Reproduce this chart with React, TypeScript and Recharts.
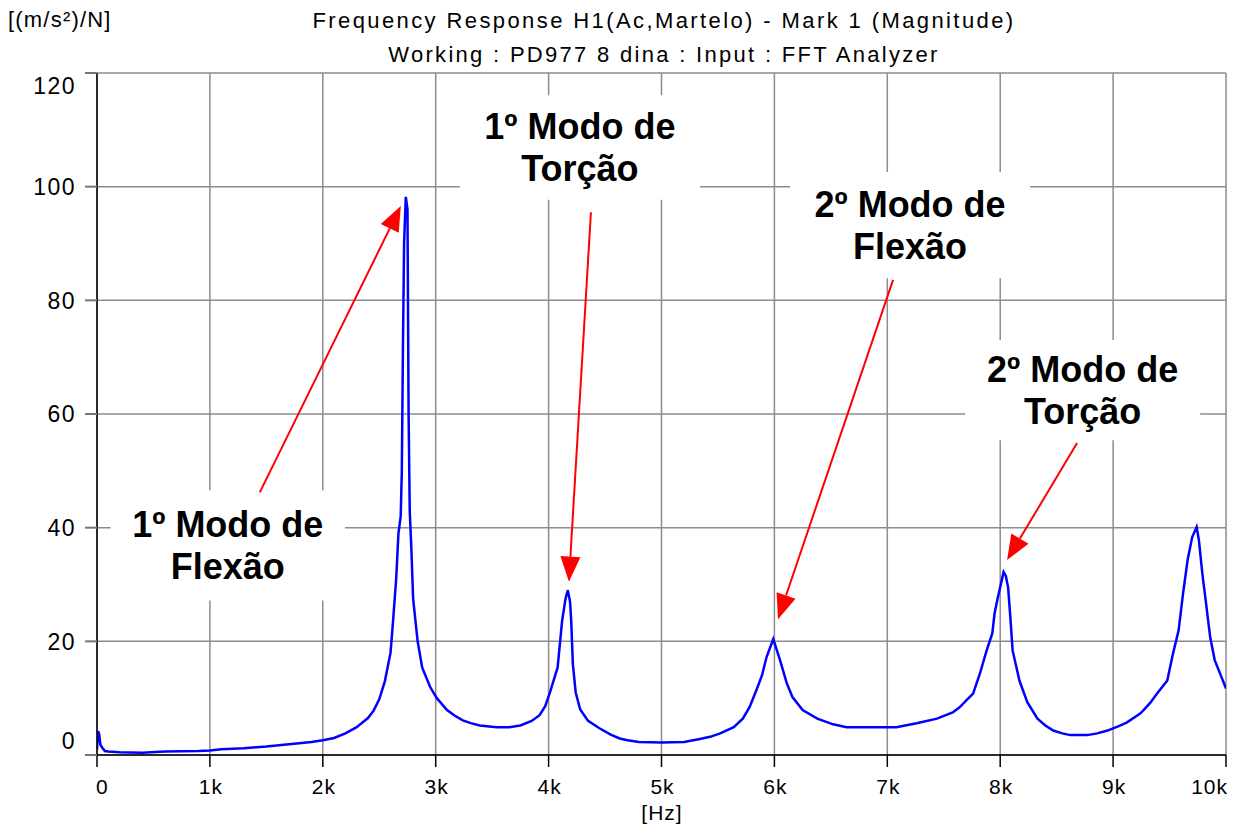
import React from 'react';
import { LineChart, Line, XAxis, YAxis, CartesianGrid, ReferenceArea, ReferenceLine } from 'recharts';

// ---- data ----
const freqHz = [
  0, 10, 20, 30, 50, 70, 100, 200, 400, 600, 900, 1000, 1100, 1300, 1500, 1700, 1900, 2000, 2100, 2200,
  2300, 2400, 2450, 2500, 2550, 2600, 2620, 2650, 2670, 2690, 2700, 2710, 2720, 2735, 2750, 2760, 2770, 2785,
  2800, 2840, 2880, 2950, 3010, 3100, 3170, 3240, 3310, 3390, 3540, 3650, 3750, 3850, 3920, 3970, 4010, 4080, 4120, 4150, 4170, 4190,
  4200, 4215, 4240, 4280, 4350, 4450, 4550, 4630, 4700, 4800, 5000, 5200, 5340, 5430, 5520, 5640, 5720, 5780, 5840, 5890, 5930,
  5990, 6050, 6110, 6160, 6250, 6380, 6520, 6640, 7080, 7260, 7440, 7580, 7640, 7700, 7760, 7820, 7880, 7930,
  7950, 7980, 8020, 8030, 8050, 8070, 8090, 8110, 8170, 8240, 8330, 8400, 8470, 8550, 8620, 8770, 8860, 8950, 9040, 9120, 9240, 9270,
  9330, 9390, 9480, 9530, 9580, 9620, 9660, 9700, 9740, 9760, 9790, 9820, 9860, 9900, 9960, 10000,
];
const magnitude = [
  1.0, 4.2, 3.6, 1.8, 1.2, 0.7, 0.6, 0.5, 0.4, 0.6, 0.7, 0.8, 1.0, 1.2, 1.5, 1.9, 2.3, 2.6, 3.0, 3.8,
  4.9, 6.5, 7.8, 9.8, 13, 18, 23, 31, 39, 42, 50, 72, 90, 98.2, 96, 60, 43, 36,
  27.5, 20, 15.4, 12, 10, 7.9, 6.9, 6.1, 5.6, 5.2, 4.9, 4.9, 5.2, 6.0, 7.0, 8.6, 10.9, 15.4, 23.7, 27.5, 29, 27,
  23.7, 16, 11, 8, 6, 4.7, 3.6, 2.9, 2.6, 2.3, 2.2, 2.3, 2.8, 3.2, 3.8, 4.9, 6.4, 8.4, 11.4, 14, 17.2,
  20.4, 16.7, 12.6, 10.2, 7.9, 6.4, 5.4, 4.9, 4.9, 5.6, 6.4, 7.5, 8.4, 9.6, 10.8, 14.3, 18.4, 21.4,
  24.9, 27.8, 31.3, 32.2, 31.5, 29.5, 24.2, 18.4, 13.1, 9.3, 6.4, 5.2, 4.3, 3.8, 3.5, 3.5, 3.8, 4.3, 5.0, 5.7, 7.3, 7.9,
  9.2, 10.8, 13.1, 17.8, 21.9, 28.5, 34.3, 38.3, 40.1, 37.8, 32, 27.2, 20.7, 16.7, 13.7, 11.7,
];
const xTicks = [0, 1000, 2000, 3000, 4000, 5000, 6000, 7000, 8000, 9000, 10000];
const yTicks = [0, 20, 40, 60, 80, 100, 120];

const titleLine1 = 'Frequency Response H1(Ac,Martelo) - Mark 1 (Magnitude)';
const titleLine2 = 'Working : PD977 8 dina : Input : FFT Analyzer';
const yUnit = '[(m/s²)/N]';
const xUnit = '[Hz]';

const modeLabels = [
  ['1º Modo de', 'Flexão'],
  ['1º Modo de', 'Torção'],
  ['2º Modo de', 'Flexão'],
  ['2º Modo de', 'Torção'],
];
const labelBoxHz = [[121, 2196], [3214, 5341], [6138, 8265], [7689, 9771]];
const labelBoxMag = [[27.2, 46.6], [97.7, 116.1], [83.9, 102.6], [55.4, 73]];
const arrowFrom = [[1442, 46.2], [4375, 95.5], [7051, 83.6], [8681, 54.9]];
const arrowTo = [[2691, 96.6], [4180, 30.5], [6032, 23.9], [8061, 34.3]];

const data = freqHz.map((f, i) => ({ f, m: magnitude[i] }));

const FONT = '"Liberation Sans", Arial, Helvetica, sans-serif';

const XTick = (props: any) => {
  const { x, y, payload } = props;
  const v = payload.value as number;
  const label = v === 0 ? '0' : `${v / 1000}k`;
  const anchor = v === 0 ? 'start' : v === 10000 ? 'end' : 'middle';
  const dx = v === 0 ? -1 : v === 10000 ? 2 : 1;
  return (
    <text x={x + dx} y={y} dy={27} textAnchor={anchor} fontSize={21} fontFamily={FONT} fill="#000" letterSpacing={1}>
      {label}
    </text>
  );
};

const YTick = (props: any) => {
  const { x, y, payload } = props;
  const v = payload.value as number;
  const dy = v === 120 ? 21 : v === 0 ? -6.5 : 8.2;
  return (
    <text x={x - 9} y={y} dy={dy} textAnchor="end" fontSize={23} fontFamily={FONT} fill="#000" letterSpacing={1.5}>
      {String(v)}
    </text>
  );
};

const makeBoxLabel = (lines: string[]) => (props: any) => {
  const vb = props.viewBox || {};
  const cx = vb.x + vb.width / 2;
  const cy = vb.y + vb.height / 2;
  return (
    <g>
      {lines.map((t, i) => (
        <text
          key={i}
          x={cx}
          y={cy + (i === 0 ? -21 : 21) + 12.5}
          textAnchor="middle"
          fontSize={36}
          fontWeight="bold"
          fontFamily={FONT}
          fill="#000"
        >
          {t}
        </text>
      ))}
    </g>
  );
};

const Arrow = (props: any) => {
  const { x1, y1, x2, y2 } = props;
  if ([x1, y1, x2, y2].some((v) => v === undefined || Number.isNaN(v))) return null;
  const dx = x2 - x1;
  const dy = y2 - y1;
  const len = Math.sqrt(dx * dx + dy * dy);
  const ux = dx / len;
  const uy = dy / len;
  const headLen = 25;
  const headHalf = 10;
  const bx = x2 - ux * headLen;
  const by = y2 - uy * headLen;
  const p1 = `${bx - uy * headHalf},${by + ux * headHalf}`;
  const p2 = `${bx + uy * headHalf},${by - ux * headHalf}`;
  return (
    <g>
      <line x1={x1} y1={y1} x2={bx} y2={by} stroke="#ff0000" strokeWidth={2} />
      <polygon points={`${x2},${y2} ${p1} ${p2}`} fill="#ff0000" />
    </g>
  );
};

export default function App() {
  return (
    <div style={{ position: 'absolute', left: 0, top: 0, width: 1240, height: 825, background: '#fff' }}>
      <LineChart width={1240} height={825} data={data} margin={{ top: 73, right: 14, bottom: 30, left: 17 }}>
        <CartesianGrid stroke="#8c8c8c" strokeWidth={1.5} />
        {labelBoxHz.map((bx, i) => (
          <ReferenceArea
            key={`box${i}`}
            x1={bx[0]}
            x2={bx[1]}
            y1={labelBoxMag[i][0]}
            y2={labelBoxMag[i][1]}
            fill="#ffffff"
            fillOpacity={1}
            stroke="none"
            ifOverflow="visible"
            label={makeBoxLabel(modeLabels[i])}
          />
        ))}
        <XAxis
          dataKey="f"
          type="number"
          domain={[0, 10000]}
          ticks={xTicks}
          interval={0}
          height={40}
          tickSize={12}
          tickMargin={0}
          axisLine={{ stroke: '#000', strokeWidth: 1.5 }}
          tickLine={{ stroke: '#000', strokeWidth: 1.5 }}
          tick={<XTick />}
          allowDataOverflow
        />
        <YAxis
          type="number"
          domain={[0, 120]}
          ticks={yTicks}
          interval={0}
          width={80}
          tickSize={12}
          tickMargin={0}
          axisLine={{ stroke: '#000', strokeWidth: 1.5 }}
          tickLine={{ stroke: '#777', strokeWidth: 2 }}
          tick={<YTick />}
          allowDataOverflow
        />
        <Line
          dataKey="m"
          type="linear"
          stroke="#0000ff"
          strokeWidth={2.5}
          dot={false}
          activeDot={false}
          isAnimationActive={false}
        />
        {arrowFrom.map((a, i) => (
          <ReferenceLine
            key={`arrow${i}`}
            segment={[
              { x: a[0], y: a[1] },
              { x: arrowTo[i][0], y: arrowTo[i][1] },
            ]}
            ifOverflow="visible"
            shape={(p: any) => <Arrow {...p} />}
          />
        ))}
      </LineChart>
      <svg
        width={1240}
        height={825}
        style={{ position: 'absolute', left: 0, top: 0, pointerEvents: 'none' }}
      >
        <text x={8} y={27} fontSize={22} fontFamily={FONT} fill="#000" letterSpacing={1.2}>
          {yUnit}
        </text>
        <text x={664} y={28} textAnchor="middle" fontSize={22} fontFamily={FONT} fill="#000" letterSpacing={2.4}>
          {titleLine1}
        </text>
        <text x={664} y={62} textAnchor="middle" fontSize={22} fontFamily={FONT} fill="#000" letterSpacing={2.3}>
          {titleLine2}
        </text>
        <text x={662} y={820} textAnchor="middle" fontSize={21} fontFamily={FONT} fill="#000" letterSpacing={1}>
          {xUnit}
        </text>
      </svg>
    </div>
  );
}
